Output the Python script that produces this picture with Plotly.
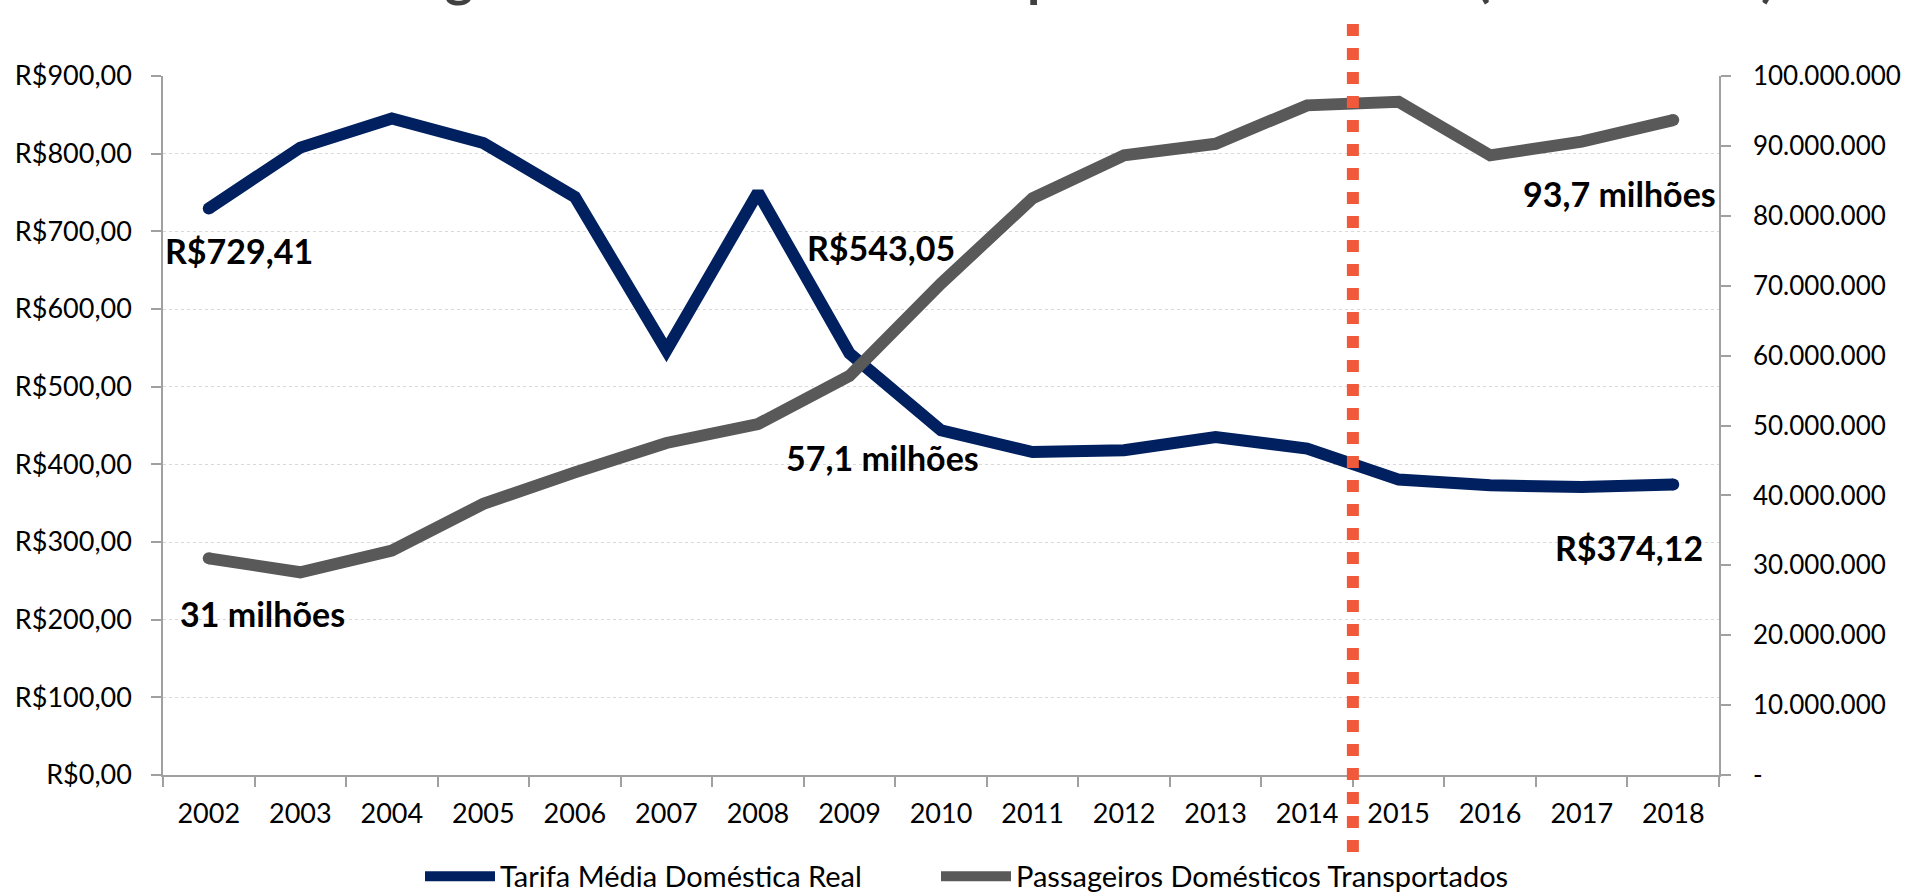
import plotly.graph_objects as go

# ---------------- data ----------------
categories = ["2002", "2003", "2004", "2005", "2006", "2007", "2008", "2009", "2010",
              "2011", "2012", "2013", "2014", "2015", "2016", "2017", "2018"]
tarifa = [729.41, 807.8, 845.2, 813.7, 744.2, 546.8, 750.0, 543.05, 443.8,
          415.9, 418.1, 435.2, 420.3, 380.4, 373.0, 370.8, 374.12]
passageiros = [31.0e6, 29.0e6, 32.1e6, 38.8e6, 43.3e6, 47.5e6, 50.2e6, 57.1e6, 70.3e6,
               82.5e6, 88.65e6, 90.3e6, 95.8e6, 96.3e6, 88.65e6, 90.6e6, 93.7e6]

left_tickvals = [0, 100, 200, 300, 400, 500, 600, 700, 800, 900]
left_ticktext = ["R$0,00", "R$100,00", "R$200,00", "R$300,00", "R$400,00", "R$500,00",
                 "R$600,00", "R$700,00", "R$800,00", "R$900,00"]
right_tickvals = [0, 10e6, 20e6, 30e6, 40e6, 50e6, 60e6, 70e6, 80e6, 90e6, 100e6]
right_ticktext = ["-", "10.000.000", "20.000.000", "30.000.000", "40.000.000", "50.000.000",
                  "60.000.000", "70.000.000", "80.000.000", "90.000.000", "100.000.000"]

series_names = ["Tarifa Média Doméstica Real", "Passageiros Domésticos Transportados"]
title_text = "Tarifa x Passageiros Domésticos Transportados no Brasil (2002-2018)"
marker_year = "2015"  # vertical reference line placed just before this year

NAVY = "#002060"
GREY = "#595959"
ORANGE = "#F05A3A"
AXIS = "#A0A0A0"
FONT = "Lato"

n = len(categories)
xi = list(range(n))  # category positions on the category axis

fig = go.Figure()
fig.add_trace(go.Scatter(x=categories, y=tarifa, name=series_names[0], mode="lines",
                         line=dict(color=NAVY, width=12), yaxis="y", legend="legend"))
fig.add_trace(go.Scatter(x=categories, y=passageiros, name=series_names[1], mode="lines",
                         line=dict(color=GREY, width=12), yaxis="y2", legend="legend2"))

# round end caps
for ys, col, ax in [(tarifa, NAVY, "y"), (passageiros, GREY, "y2")]:
    fig.add_trace(go.Scatter(x=[categories[0], categories[-1]], y=[ys[0], ys[-1]],
                             mode="markers", marker=dict(color=col, size=12, line=dict(width=0)),
                             showlegend=False, hoverinfo="skip", yaxis=ax))

idx = categories.index(marker_year) - 0.5
fig.add_shape(type="line", xref="x", yref="paper", x0=idx, x1=idx, y0=-0.110, y1=1.0916,
              line=dict(color=ORANGE, width=12, dash="dot"))

ann_font = dict(family=FONT, size=34, color="#000000")
anns = [
    dict(text="R$729,41", i=0, y=tarifa[0], yref="y", xanchor="left", xshift=-46, yshift=-42),
    dict(text="R$543,05", i=7, y=tarifa[7], yref="y", xanchor="center", xshift=32, yshift=106),
    dict(text="57,1 milhões", i=7, y=passageiros[7], yref="y2", xanchor="center", xshift=33, yshift=-82),
    dict(text="93,7 milhões", i=n - 1, y=passageiros[-1], yref="y2", xanchor="right", xshift=45, yshift=-73),
    dict(text="R$374,12", i=n - 1, y=tarifa[-1], yref="y", xanchor="right", xshift=32, yshift=-63),
    dict(text="31 milhões", i=0, y=passageiros[0], yref="y2", xanchor="left", xshift=-31, yshift=-55),
]
for a in anns:
    fig.add_annotation(text="<b>" + a["text"] + "</b>", x=xi[a["i"]], y=a["y"], xref="x", yref=a["yref"],
                       xanchor=a["xanchor"], yanchor="middle", xshift=a["xshift"], yshift=a["yshift"],
                       showarrow=False, font=ann_font)

# title (cut off at the top of the page, as in the reference)
fig.add_annotation(text="<b>" + title_text + "</b>", xref="paper", yref="paper", x=0.5051, y=1.094,
                   xanchor="center", yanchor="bottom", showarrow=False,
                   font=dict(family=FONT, size=54, color="#404040"))

legend_common = dict(orientation="h", xref="container", yref="container", y=0.022,
                     xanchor="left", yanchor="middle", itemwidth=70,
                     font=dict(family=FONT, size=29, color="#000000"),
                     bgcolor="rgba(0,0,0,0)")

fig.update_layout(
    width=1917, height=896,
    margin=dict(l=163, r=198, t=76, b=121, autoexpand=False),
    paper_bgcolor="white", plot_bgcolor="white",
    font=dict(family=FONT, size=27, color="#000000"),
    showlegend=True,
    legend=dict(x=420 / 1917, **legend_common),
    legend2=dict(x=936 / 1917, **legend_common),
    xaxis=dict(type="category", categoryorder="array", categoryarray=categories,
               range=[-0.5, n - 0.5], autorange=False,
               showgrid=False, showline=True, linecolor=AXIS, linewidth=1.5,
               ticks="outside", tickson="boundaries", ticklen=10, tickcolor=AXIS, tickwidth=1.5,
               tickangle=0, ticklabelstandoff=14, zeroline=False, fixedrange=True),
    yaxis=dict(range=[0, 900], tickvals=left_tickvals, ticktext=left_ticktext,
               showgrid=True, gridcolor="#D9D9D9", gridwidth=1, griddash="dot",
               showline=True, linecolor=AXIS, linewidth=1.5, ticks="outside", ticklen=10,
               tickcolor=AXIS, tickwidth=1.5, ticklabelstandoff=14, zeroline=False),
    yaxis2=dict(range=[0, 100e6], tickvals=right_tickvals, ticktext=right_ticktext,
                overlaying="y", side="right", showgrid=False, showline=True, linecolor=AXIS,
                linewidth=1.5, ticks="outside", ticklen=10, tickcolor=AXIS, tickwidth=1.5,
                ticklabelstandoff=17, tickfont=dict(family=FONT, size=26, color="#000000"),
                zeroline=False),
)

fig.write_html("out.html", config={"displayModeBar": False},
               post_script="document.body.style.margin='0px';document.body.style.overflow='hidden';")
